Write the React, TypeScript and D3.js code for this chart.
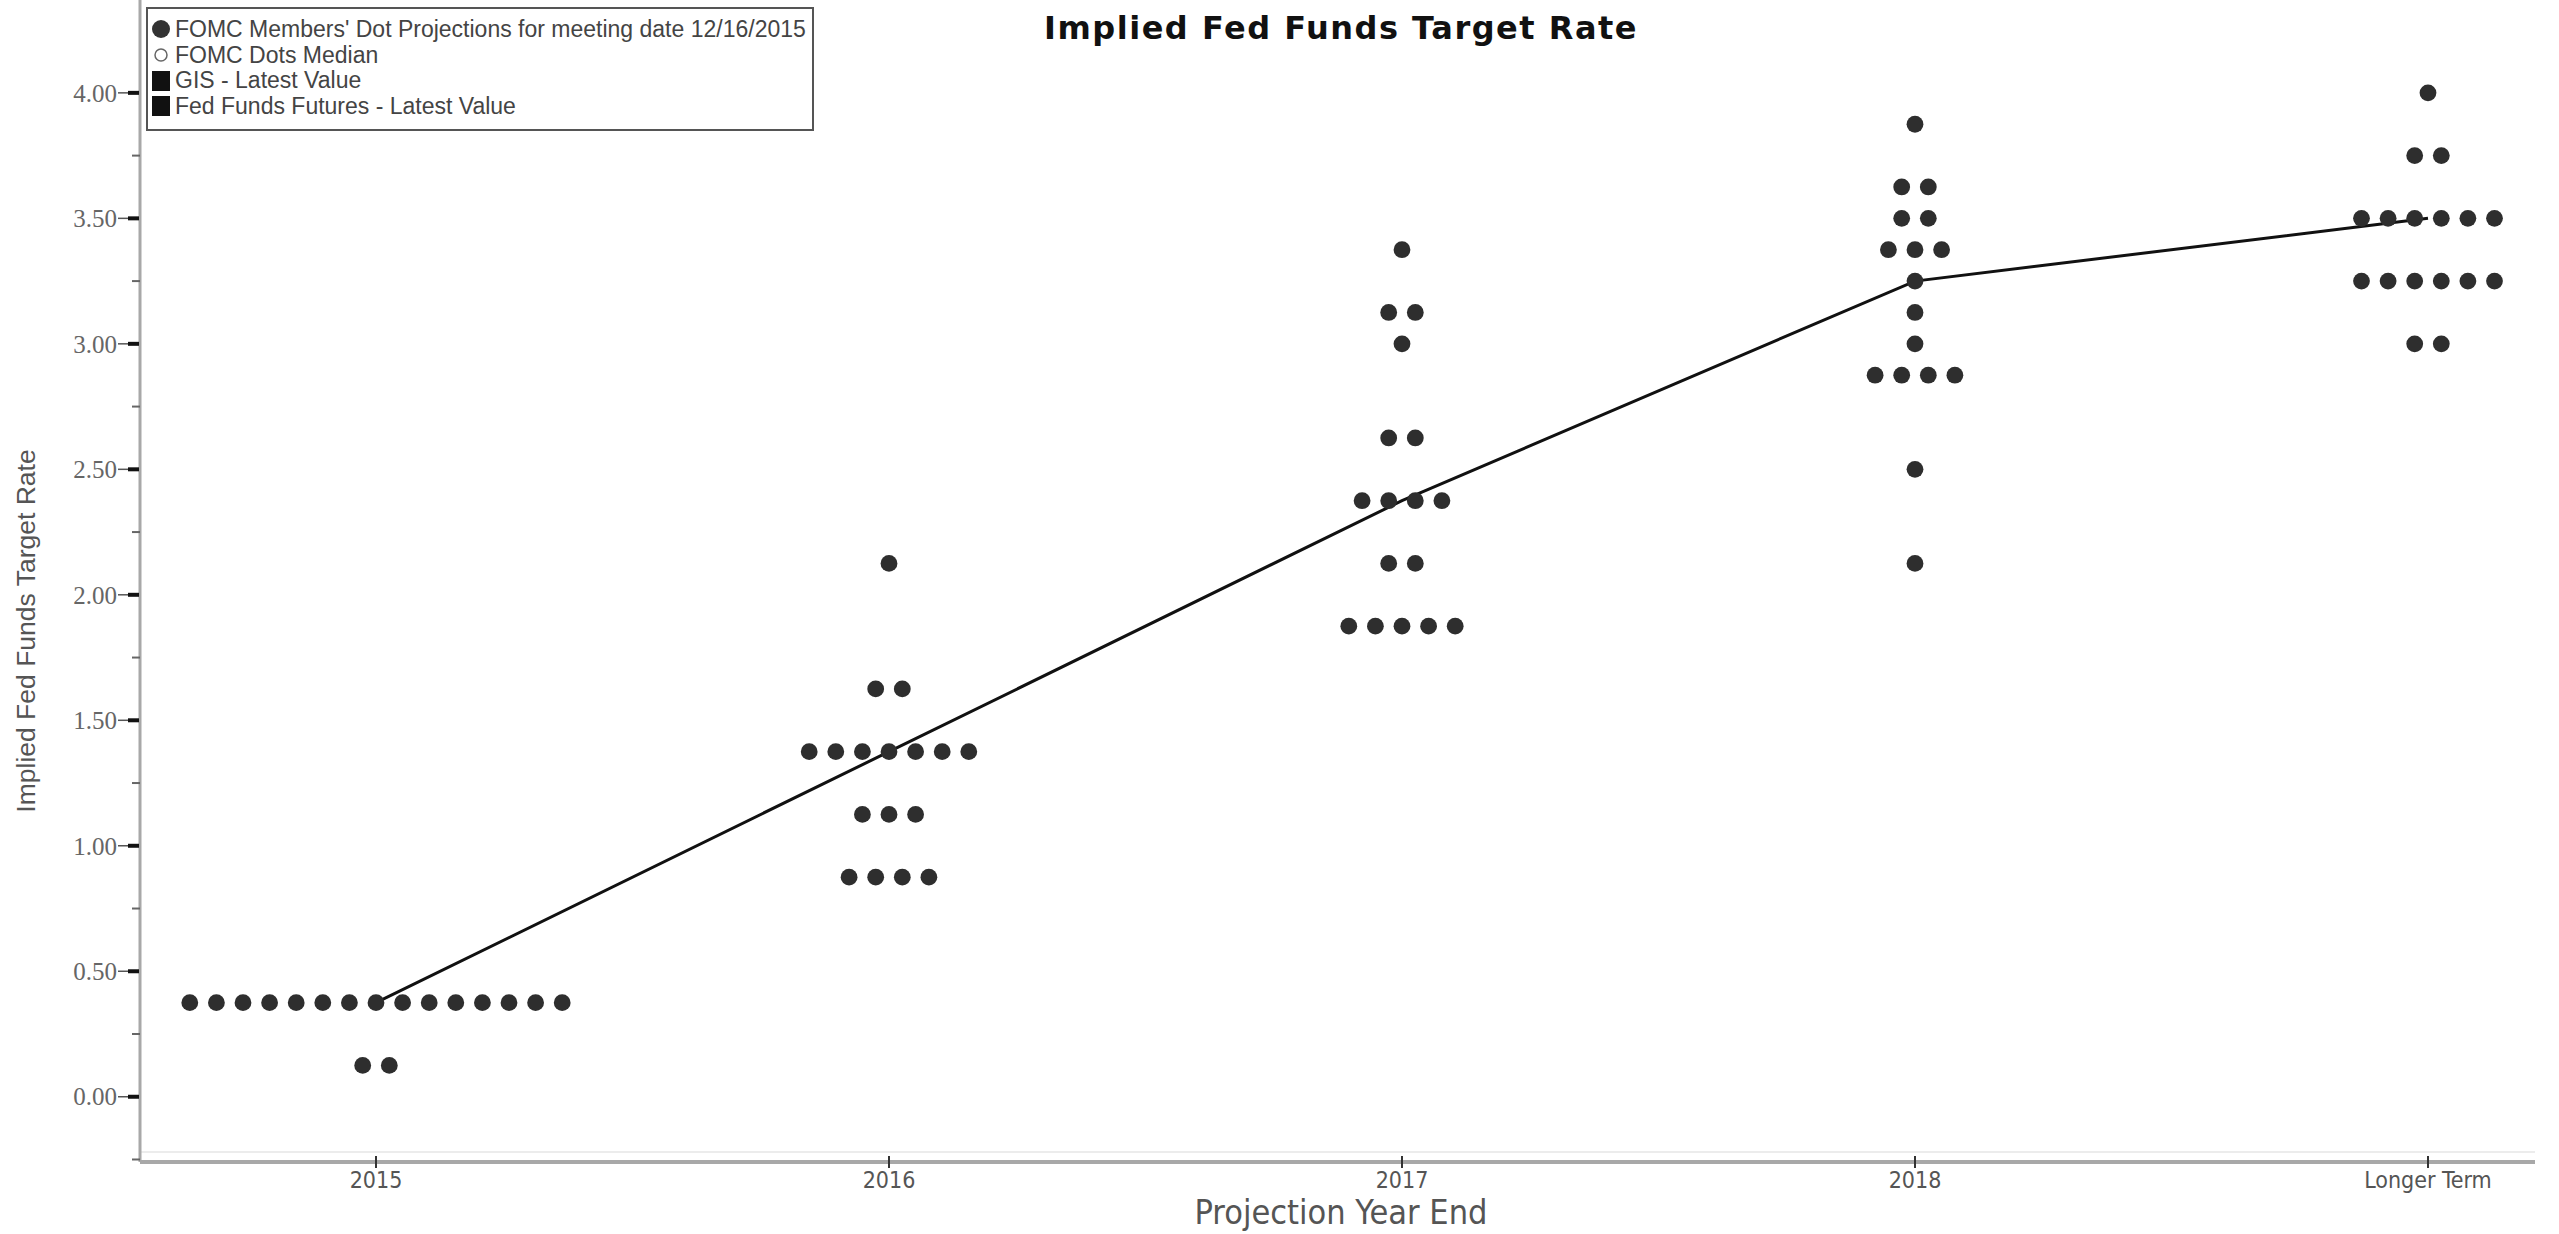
import * as d3 from "d3";

// projection buckets on the x axis
const categories = ["2015", "2016", "2017", "2018", "Longer Term"];

// FOMC dots: [rate, number of participants at that rate]
const dots2015: [number, number][] = [
  [0.375, 15],
  [0.125, 2],
];
const dots2016: [number, number][] = [
  [2.125, 1],
  [1.625, 2],
  [1.375, 7],
  [1.125, 3],
  [0.875, 4],
];
const dots2017: [number, number][] = [
  [3.375, 1],
  [3.125, 2],
  [3.0, 1],
  [2.625, 2],
  [2.375, 4],
  [2.125, 2],
  [1.875, 5],
];
const dots2018: [number, number][] = [
  [3.875, 1],
  [3.625, 2],
  [3.5, 2],
  [3.375, 3],
  [3.25, 1],
  [3.125, 1],
  [3.0, 1],
  [2.875, 4],
  [2.5, 1],
  [2.125, 1],
];
const dotsLonger: [number, number][] = [
  [4.0, 1],
  [3.75, 2],
  [3.5, 6],
  [3.25, 6],
  [3.0, 2],
];

// median of the dots per bucket
const medians = [0.375, 1.375, 2.375, 3.25, 3.5];

const yMajorTicks = [0, 0.5, 1.0, 1.5, 2.0, 2.5, 3.0, 3.5, 4.0];
const yMinorTicks = [-0.25, 0.25, 0.75, 1.25, 1.75, 2.25, 2.75, 3.25, 3.75];

const legendLabels = [
  "FOMC Members' Dot Projections for meeting date 12/16/2015",
  "FOMC Dots Median",
  "GIS - Latest Value",
  "Fed Funds Futures - Latest Value",
];

const W = 2559;
const H = 1234;
const axisLeft = 140;
const axisRight = 2535;
const axisBottom = 1162;
const dotGap = 26.6;
const dotR = 8.4;
const narrow = "'Liberation Sans Narrow', 'DejaVu Sans Condensed', 'Liberation Sans', sans-serif";

export default function App() {
  const x = d3.scalePoint<string>().domain(categories).range([376, 2428]);
  const y = d3.scaleLinear().domain([-0.26, 4.37]).range([axisBottom, 0]);

  const groups = [dots2015, dots2016, dots2017, dots2018, dotsLonger];
  const dots: { cx: number; cy: number; key: string }[] = [];
  groups.forEach((rows, gi) => {
    const cat = categories[gi];
    rows.forEach(([rate, n]) => {
      for (let j = 0; j < n; j++) {
        dots.push({
          cx: x(cat)! + (j - (n - 1) / 2) * dotGap,
          cy: y(rate),
          key: `${cat}-${rate}-${j}`,
        });
      }
    });
  });

  const medianLine = d3
    .line<number>()
    .x((_, i) => x(categories[i])!)
    .y((d) => y(d))(medians);

  return (
    <svg
      width={W}
      height={H}
      style={{ position: "absolute", left: 0, top: 0, display: "block", background: "#fff" }}
    >
      <rect x={0} y={0} width={W} height={H} fill="#fff" />

      {/* title */}
      <text
        x={1341}
        y={39}
        textAnchor="middle"
        fontFamily="'DejaVu Sans', Verdana, sans-serif"
        fontWeight="bold"
        fontSize={32}
        letterSpacing={1.5}
        fill="#111"
      >
        Implied Fed Funds Target Rate
      </text>

      {/* faint plot-area bottom */}
      <line x1={axisLeft} x2={axisRight} y1={axisBottom - 10} y2={axisBottom - 10} stroke="#e6e6e6" strokeWidth={1.5} />

      {/* y axis */}
      <line x1={axisLeft} x2={axisLeft} y1={0} y2={axisBottom} stroke="#a8a8a8" strokeWidth={3} />
      {yMinorTicks.map((t) => (
        <line key={`mi${t}`} x1={axisLeft - 8} x2={axisLeft} y1={y(t)} y2={y(t)} stroke="#666" strokeWidth={2} />
      ))}
      {yMajorTicks.map((t) => (
        <g key={`ma${t}`}>
          <line x1={118} x2={129} y1={y(t)} y2={y(t)} stroke="#555" strokeWidth={1.5} />
          <line x1={128} x2={139} y1={y(t)} y2={y(t)} stroke="#111" strokeWidth={4} />
          <text
            x={117}
            y={y(t)}
            dy="0.35em"
            textAnchor="end"
            fontFamily="'Liberation Serif', 'Times New Roman', serif"
            fontSize={25}
            fill="#666"
          >
            {t.toFixed(2)}
          </text>
        </g>
      ))}
      <text
        transform={`translate(35, ${631}) rotate(-90)`}
        textAnchor="middle"
        fontFamily="'Liberation Sans', Arial, sans-serif"
        fontSize={26.5}
        fill="#555"
      >
        Implied Fed Funds Target Rate
      </text>

      {/* x axis */}
      <line x1={axisLeft} x2={axisRight} y1={axisBottom} y2={axisBottom} stroke="#a8a8a8" strokeWidth={4} />
      {categories.map((c) => (
        <g key={c}>
          <line x1={x(c)!} x2={x(c)!} y1={axisBottom - 6} y2={axisBottom + 6} stroke="#333" strokeWidth={2} />
          <text
            x={x(c)!}
            y={1188}
            textAnchor="middle"
            fontFamily={narrow}
            fontSize={23}
            fill="#555"
          >
            {c}
          </text>
        </g>
      ))}
      <text x={1341} y={1224} textAnchor="middle" fontFamily={narrow} fontSize={34} fill="#555">
        Projection Year End
      </text>

      {/* median line */}
      <path d={medianLine ?? ""} fill="none" stroke="#111" strokeWidth={3} />

      {/* dots */}
      {dots.map((d) => (
        <circle key={d.key} cx={d.cx} cy={d.cy} r={dotR} fill="#2e2e2e" />
      ))}

      {/* legend */}
      <rect x={147} y={8} width={666} height={122} fill="#fff" stroke="#555" strokeWidth={2} />
      <circle cx={161} cy={29} r={9} fill="#333" />
      <circle cx={161} cy={55} r={6} fill="#fff" stroke="#666" strokeWidth={1.5} />
      <rect x={152} y={71} width={18} height={20} fill="#111" />
      <rect x={152} y={96} width={18} height={20} fill="#111" />
      {legendLabels.map((l, i) => (
        <text
          key={l}
          x={175}
          y={29 + i * 25.7}
          dy="0.35em"
          fontFamily="'Liberation Sans', Tahoma, sans-serif"
          fontSize={23}
          fill="#444"
        >
          {l}
        </text>
      ))}
    </svg>
  );
}
